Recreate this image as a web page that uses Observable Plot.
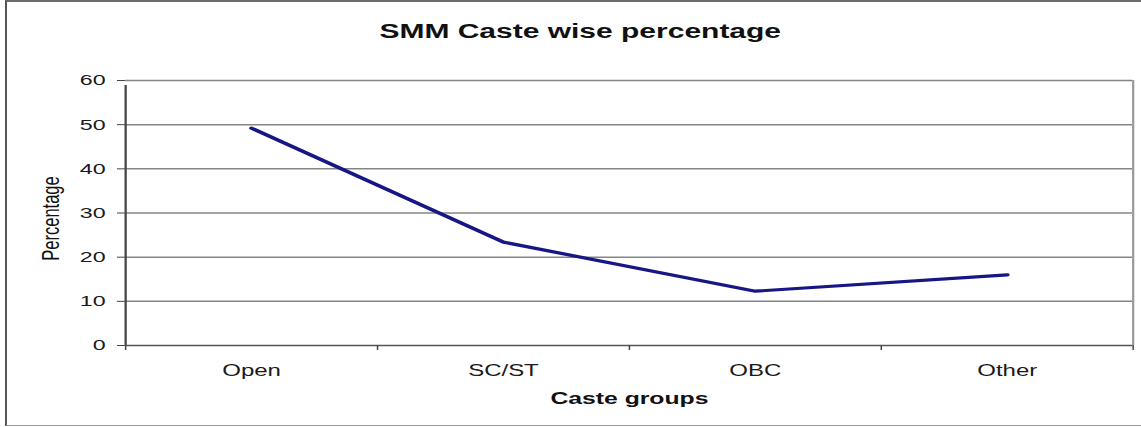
<!DOCTYPE html>
<html>
<head>
<meta charset="utf-8">
<script src="https://cdn.jsdelivr.net/npm/d3@7"></script>
<script src="https://cdn.jsdelivr.net/npm/@observablehq/plot@0.6"></script>
<style>
  html, body { margin: 0; padding: 0; background: #fff; }
  body { width: 1141px; height: 427px; position: relative; overflow: hidden; font-family: "Liberation Sans", Arial, sans-serif; }
  #frame { position: absolute; left: 5px; top: 0; width: 1136px; height: 426px; box-sizing: border-box;
           border-left: 2px solid #555; border-top: 2px solid #6a6a6a; border-bottom: 1px solid #9a9a9a; }
  #wrap { position: absolute; left: 0; top: 0; width: 761px; height: 427px; transform: scaleX(1.4993); transform-origin: 0 0; }
  #title { position: relative; height: 55px; }
  #title span { position: absolute; left: 387px; top: 21px; transform: translateX(-50%); white-space: nowrap;
                font-weight: bold; font-size: 20px; line-height: 20px; color: #111; }
</style>
</head>
<body>
<div id="frame"></div>
<div id="wrap">
  <div id="title"><span>SMM Caste wise percentage</span></div>
  <div id="chart"></div>
</div>
<script>
const categories = ["Open", "SC/ST", "OBC", "Other"];
const values = [49.2, 23.4, 12.3, 16.0];
const yTicks = [0, 10, 20, 30, 40, 50, 60];
const xTitle = "Caste groups";
const yTitle = "Percentage";

const data = categories.map((c, i) => ({cat: c, pos: i + 0.5, value: values[i]}));
const bounds = d3.range(categories.length + 1);

const chart = Plot.plot({
  width: 761,
  height: 372,
  marginLeft: 83.3,
  marginRight: 5.7,
  marginTop: 25,
  marginBottom: 82,
  style: {fontFamily: "'Liberation Sans', Arial, sans-serif", fontSize: "15px", background: "transparent", color: "#1a1a1a"},
  x: {domain: [0, categories.length]},
  y: {domain: [0, 60]},
  marks: [
    Plot.gridY({ticks: yTicks.filter(v => v > 0), stroke: "#858585", strokeOpacity: 1, strokeWidth: 1.5}),
    Plot.ruleX([categories.length], {stroke: "#9a9a9a", strokeWidth: 1.5}),
    Plot.ruleY([0], {stroke: "#555", strokeWidth: 1.5}),
    Plot.ruleX([0], {y1: 0, y2: 60, insetBottom: -5, stroke: "#444", strokeWidth: 1.5}),
    Plot.axisY({ticks: yTicks, tickSize: 5.3, tickPadding: 8, label: null, fontSize: 15.5, stroke: "#444"}),
    Plot.axisX({ticks: bounds, tickSize: 5, tickFormat: () => "", label: null, stroke: "#444"}),
    Plot.axisX({ticks: data.map(d => d.pos), tickSize: 0, tickPadding: 19.5,
                tickFormat: v => categories[Math.floor(v)], label: null, fontSize: 16}),
    Plot.line(data, {x: "pos", y: "value", stroke: "#161685", strokeWidth: 3.2, strokeLinejoin: "round"}),
    Plot.text([xTitle], {frameAnchor: "bottom", dy: 53, lineAnchor: "middle", fontWeight: "bold", fontSize: 16.5, fill: "#111"}),
    Plot.text([yTitle], {frameAnchor: "left", dx: -50, dy: 5.5, rotate: -90, textAnchor: "middle", lineAnchor: "middle", fontSize: 16.5, fill: "#111"})
  ]
});
document.getElementById("chart").appendChild(chart);
</script>
</body>
</html>
